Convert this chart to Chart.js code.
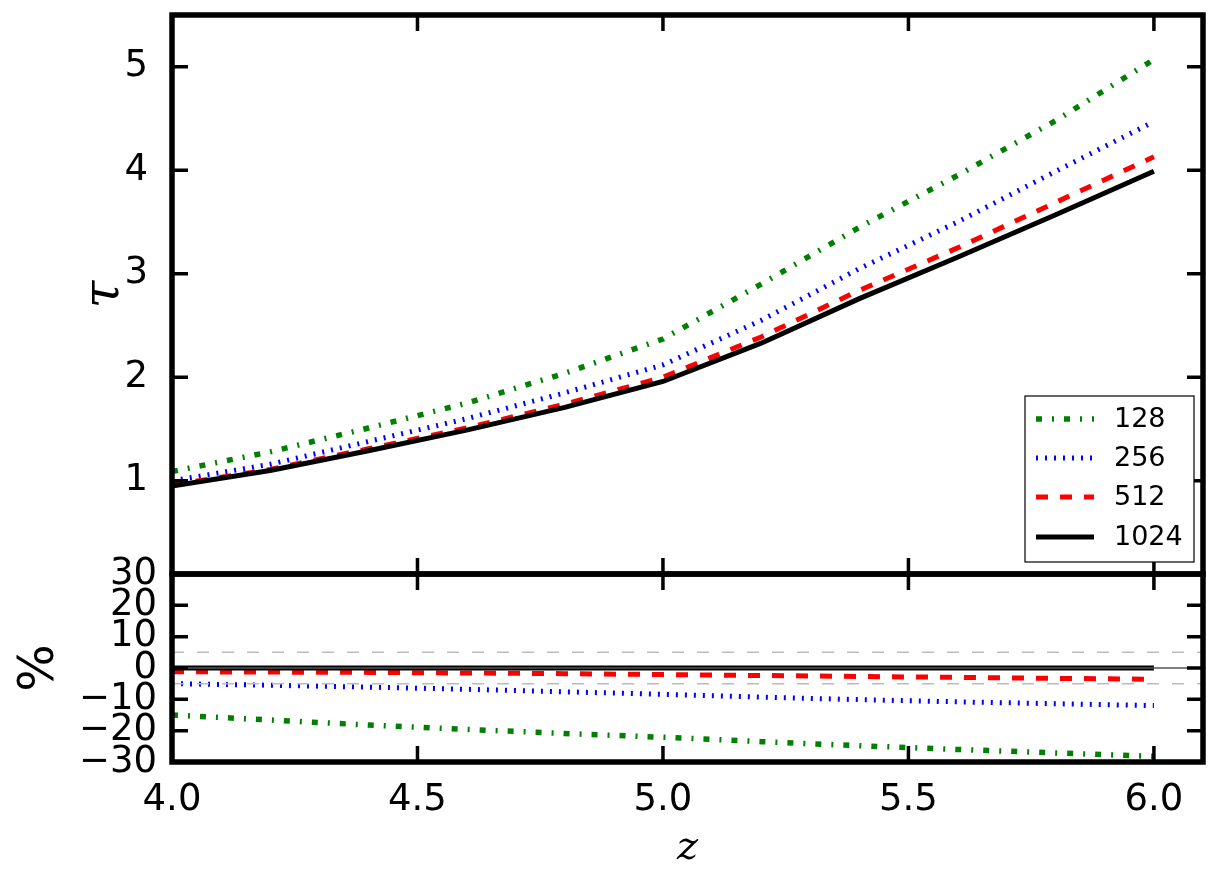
<!DOCTYPE html>
<html>
<head>
<meta charset="utf-8">
<script src="https://cdn.jsdelivr.net/npm/chart.js@4.4.0/dist/chart.umd.min.js"></script>
<style>
  html, body { margin: 0; padding: 0; background: #fff; }
  #wrap { position: relative; width: 1220px; height: 887px; }
  #tauBox { position: absolute; left: 0; top: 0; width: 1220px; height: 590px; }
  #pctBox { position: absolute; left: 0; top: 540px; width: 1220px; height: 347px; }
</style>
</head>
<body>
<div id="wrap">
  <div id="tauBox"><canvas id="tauChart"></canvas></div>
  <div id="pctBox"><canvas id="pctChart"></canvas></div>
</div>
<script>
// redshift samples
const z = [4.0, 4.2, 4.4, 4.6, 4.8, 5.0, 5.2, 5.4, 5.6, 5.8, 6.0];

// optical depth for each resolution
const tau128  = [1.09, 1.28, 1.51, 1.75, 2.04, 2.37, 2.90, 3.45, 3.95, 4.48, 5.07];
const tau256  = [1.00, 1.16, 1.38, 1.60, 1.85, 2.12, 2.55, 3.05, 3.50, 3.99, 4.47];
const tau512  = [0.96, 1.11, 1.31, 1.51, 1.74, 2.00, 2.39, 2.84, 3.25, 3.69, 4.13];
const tau1024 = [0.95, 1.10, 1.29, 1.49, 1.71, 1.96, 2.33, 2.76, 3.16, 3.57, 3.99];

// percent difference vs 1024
const pct128  = [-15.0, -16.6, -18.2, -19.6, -20.9, -22.1, -23.5, -24.8, -26.0, -27.1, -28.2];
const pct256  = [-5.0, -5.5, -6.1, -6.8, -7.6, -8.4, -9.3, -10.1, -10.8, -11.4, -12.0];
const pct512  = [-1.2, -1.3, -1.4, -1.6, -1.8, -2.1, -2.4, -2.7, -3.0, -3.3, -3.6];
const pct1024 = [0, 0, 0, 0, 0, 0, 0, 0, 0, 0, 0];

const labels = ['128', '256', '512', '1024'];
const xRange = [4.0, 6.1];
const xTicks = [4.0, 4.5, 5.0, 5.5, 6.0];
const tauRange = [0.1, 5.5];
const tauTicks = [1, 2, 3, 4, 5];
const pctRange = [-30, 30];
const pctTicks = [-30, -20, -10, 0, 10, 20, 30];
const bandLevels = [5, -5];

const pts = ys => z.map((x, i) => ({ x: x, y: ys[i] }));
const flat = y => xRange.map(x => ({ x: x, y: y }));

const styles = [
    { color: '#008000', dash: [6, 10, 2, 10], width: 5.5 },
    { color: '#0000ff', dash: [2, 7], width: 5 },
    { color: '#ff0000', dash: [12, 12], width: 5 },
    { color: '#000000', dash: [], width: 5 }
];

function seriesSets(series) {
    return series.map((ys, i) => ({
        label: labels[i],
        data: pts(ys),
        borderColor: styles[i].color,
        borderDash: styles[i].dash,
        borderWidth: styles[i].width,
        pointRadius: 0,
        tension: 0,
        fill: false,
        order: 4 - i
    }));
}

const tickFont = { family: 'DejaVu Sans', size: 37 };

// frame + inward ticks on all four sides
const frameTicks = {
    id: 'frameTicks',
    afterDatasetsDraw(chart) {
        const { ctx, chartArea: a, scales } = chart;
        const len = 16;
        ctx.save();
        ctx.strokeStyle = '#000';
        ctx.lineWidth = 3.5;
        ctx.beginPath();
        scales.x.ticks.forEach(t => {
            const px = scales.x.getPixelForValue(t.value);
            ctx.moveTo(px, a.top); ctx.lineTo(px, a.top + len);
            ctx.moveTo(px, a.bottom); ctx.lineTo(px, a.bottom - len);
        });
        scales.y.ticks.forEach(t => {
            const py = scales.y.getPixelForValue(t.value);
            ctx.moveTo(a.left, py); ctx.lineTo(a.left + len, py);
            ctx.moveTo(a.right, py); ctx.lineTo(a.right - len, py);
        });
        ctx.stroke();
        ctx.lineWidth = 5.5;
        ctx.strokeRect(a.left, a.top, a.right - a.left, a.bottom - a.top);
        ctx.restore();
    }
};

// legend box in the lower right of the top panel
const boxLegend = {
    id: 'boxLegend',
    afterDraw(chart) {
        const { ctx } = chart;
        const left = 1025, top = 396, w = 169, h = 166;
        const rows = [419, 458, 497, 537];
        ctx.save();
        ctx.fillStyle = '#fff';
        ctx.fillRect(left, top, w, h);
        ctx.strokeStyle = '#000';
        ctx.lineWidth = 1.2;
        ctx.strokeRect(left, top, w, h);
        const sets = chart.data.datasets.filter(d => labels.includes(d.label));
        sets.forEach((d, i) => {
            const y = rows[i];
            ctx.beginPath();
            ctx.strokeStyle = d.borderColor;
            ctx.lineWidth = d.borderWidth;
            ctx.setLineDash(d.borderDash);
            ctx.moveTo(1036, y);
            ctx.lineTo(1094, y);
            ctx.stroke();
            ctx.setLineDash([]);
            ctx.fillStyle = '#000';
            ctx.font = '27px "DejaVu Sans"';
            ctx.textBaseline = 'middle';
            ctx.fillText(d.label, 1114, y + 1);
        });
        ctx.restore();
    }
};

function xAxis(showLabels, height) {
    return {
        type: 'linear',
        min: xRange[0],
        max: xRange[1],
        grid: { display: false },
        border: { display: false },
        afterBuildTicks: s => { s.ticks = xTicks.map(v => ({ value: v })); },
        afterFit: s => { s.height = height; s.paddingLeft = 0; s.paddingRight = 0; },
        ticks: {
            display: showLabels,
            font: tickFont,
            color: '#000',
            padding: 8,
            maxRotation: 0,
            autoSkip: false,
            callback: v => Number(v).toFixed(1)
        },
        title: {
            display: showLabels,
            text: 'z',
            color: '#000',
            font: { family: 'DejaVu Serif', style: 'italic', size: 40 },
            padding: { top: 0, bottom: 14 }
        }
    };
}

new Chart(document.getElementById('tauChart'), {
    type: 'line',
    data: { datasets: seriesSets([tau128, tau256, tau512, tau1024]) },
    options: {
        responsive: true,
        maintainAspectRatio: false,
        animation: false,
        layout: { padding: { top: 15, right: 17, bottom: 16, left: 75 } },
        plugins: { legend: { display: false }, tooltip: { enabled: false } },
        scales: {
            x: xAxis(false, 0),
            y: {
                type: 'linear',
                min: tauRange[0],
                max: tauRange[1],
                grid: { display: false },
                border: { display: false },
                afterBuildTicks: s => { s.ticks = tauTicks.map(v => ({ value: v })); },
                afterFit: s => { s.width = 97; s.paddingTop = 0; s.paddingBottom = 0; },
                ticks: { font: tickFont, color: '#000', padding: 16, autoSkip: false },
                title: {
                    display: true,
                    text: 'τ',
                    color: '#000',
                    font: { family: 'DejaVu Serif', style: 'italic', size: 50 },
                    padding: { top: 0, bottom: 0 }
                }
            }
        }
    },
    plugins: [frameTicks, boxLegend]
});

const refSets = [
    { label: 'zero', data: flat(0), borderColor: '#555', borderWidth: 1.5, borderDash: [], pointRadius: 0, order: 0 },
    ...bandLevels.map(v => ({
        label: 'band', data: flat(v), borderColor: '#bbbbbb', borderWidth: 1.5,
        borderDash: [12, 13], pointRadius: 0, order: 0
    }))
];

new Chart(document.getElementById('pctChart'), {
    type: 'line',
    data: { datasets: [...refSets, ...seriesSets([pct128, pct256, pct512, pct1024])] },
    options: {
        responsive: true,
        maintainAspectRatio: false,
        animation: false,
        layout: { padding: { top: 34, right: 17, bottom: 0, left: 10 } },
        plugins: { legend: { display: false }, tooltip: { enabled: false } },
        scales: {
            x: xAxis(true, 125),
            y: {
                type: 'linear',
                min: pctRange[0],
                max: pctRange[1],
                grid: { display: false },
                border: { display: false },
                afterBuildTicks: s => { s.ticks = pctTicks.map(v => ({ value: v })); },
                afterFit: s => { s.width = 162; s.paddingTop = 0; s.paddingBottom = 0; },
                ticks: {
                    font: tickFont, color: '#000', padding: 7, autoSkip: false,
                    callback: v => String(v).replace('-', '\u2212')
                },
                title: {
                    display: true,
                    text: '%',
                    color: '#000',
                    font: { family: 'DejaVu Sans', size: 50 },
                    padding: { top: 0, bottom: 0 }
                }
            }
        }
    },
    plugins: [frameTicks]
});
</script>
</body>
</html>
